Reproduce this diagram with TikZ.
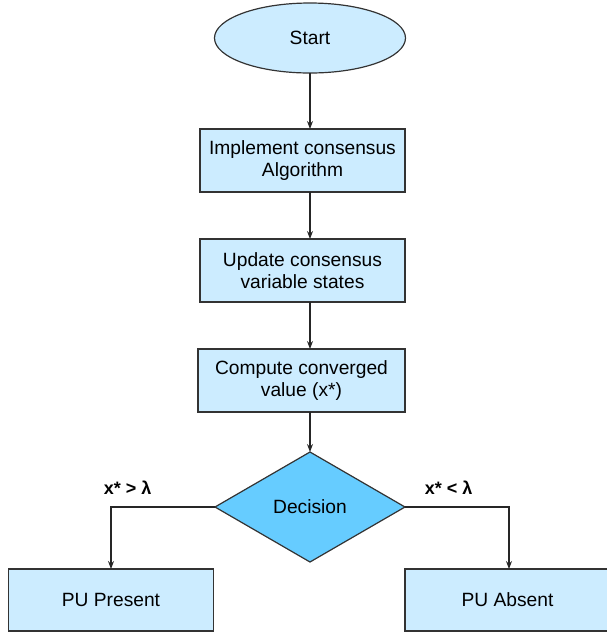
\documentclass[tikz,border=0pt]{standalone}
\usepackage{fontspec}
\setmainfont{Liberation Sans}
\usepackage{xcolor}
\usepackage{tikz}
\usetikzlibrary{positioning, arrows.meta, shapes}

\definecolor{boxblue}{HTML}{CCECFF}
\definecolor{decblue}{HTML}{66CCFF}

\begin{document}
\begin{tikzpicture}[
    font=\fontsize{19.2}{21.5}\selectfont,
    rect/.style={rectangle, draw=black!80, line width=1.2pt, fill=boxblue, minimum width=205pt, minimum height=63pt, align=center, inner sep=0pt, outer sep=0pt},
    term/.style={ellipse, draw=black!80, line width=1.2pt, fill=boxblue, minimum width=191pt, minimum height=70pt, inner sep=0pt, outer sep=0pt},
    dec/.style={diamond, draw=black!80, line width=1.2pt, fill=decblue, minimum width=190pt, minimum height=110pt, aspect=1.73, inner sep=0pt, outer sep=0pt},
    arrow/.style={-{Stealth[length=8pt, width=6pt]}, line width=1.2pt, draw=black!85},
    cond/.style={font=\fontsize{18}{21}\selectfont\bfseries}
]
    \useasboundingbox (-310pt,38pt) rectangle (297pt,-595pt);

    % Main flow
    \node[term] (start) {Start};
    \node[rect, below=56pt of start, xshift=-7.5pt] (impl) {Implement consensus\\Algorithm};
    \node[rect, below=47pt of impl] (update) {Update consensus\\variable states};
    \node[rect, below=47pt of update, xshift=-1pt, minimum width=207pt] (compute) {Compute converged\\value (x*)};
    \node[dec, below=40pt of compute, xshift=8.5pt] (decision) {Decision};

    % Outcomes
    \node[rect, below=7pt of decision, xshift=-199pt, minimum height=62pt] (present) {PU Present};
    \node[rect, below=7pt of decision, xshift=197.5pt, minimum height=62pt] (absent) {PU Absent};

    % Edges
    \draw[arrow] (start.south) -- (start.south |- impl.north);
    \draw[arrow] (start.south |- impl.south) -- (start.south |- update.north);
    \draw[arrow] (start.south |- update.south) -- (start.south |- compute.north);
    \draw[arrow] (start.south |- compute.south) -- (decision.north);
    \draw[arrow] (decision.west) -| node[cond, pos=0.42, above=9pt] {x* > λ} (present.north);
    \draw[arrow] (decision.east) -| node[cond, pos=0.21, above=9pt] {x* < λ} ([xshift=1.5pt]absent.north);

\end{tikzpicture}
\end{document}
